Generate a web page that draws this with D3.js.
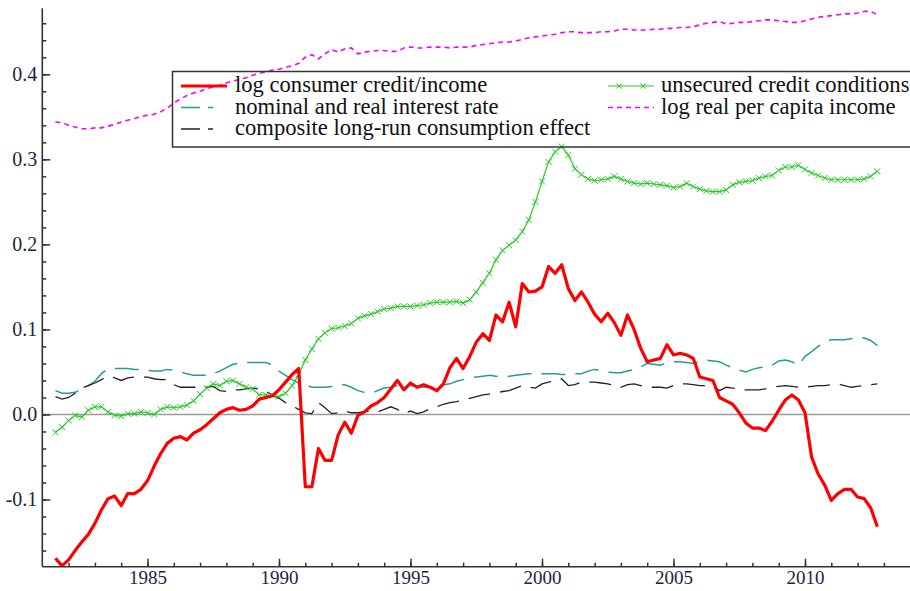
<!DOCTYPE html>
<html>
<head>
<meta charset="utf-8">
<script src="https://cdnjs.cloudflare.com/ajax/libs/d3/7.8.5/d3.min.js"></script>
<style>
  body { margin: 0; background: #fff; }
  svg { display: block; }
</style>
</head>
<body>
<svg id="chart"></svg>
<script>
// quarterly data, first quarter is 1981 Q3
var firstQuarter = 1981.5;

var creditIncome = [
  -0.169, -0.178,
  -0.171, -0.160, -0.150, -0.141,
  -0.128, -0.112, -0.099, -0.096,
  -0.107, -0.093, -0.093, -0.088,
  -0.078, -0.061, -0.046, -0.034,
  -0.028, -0.026, -0.030, -0.022,
  -0.018, -0.012, -0.005, 0.002,
  0.006, 0.008, 0.005, 0.006,
  0.010, 0.018, 0.020, 0.022,
  0.029, 0.038, 0.047, 0.054,
  -0.085, -0.085, -0.040, -0.054,
  -0.054, -0.024, -0.009, -0.022,
  -0.001, 0.003, 0.010, 0.014,
  0.020, 0.030, 0.040, 0.029,
  0.037, 0.032, 0.035, 0.032,
  0.028, 0.036, 0.055, 0.066,
  0.054, 0.068, 0.085, 0.095,
  0.087, 0.117, 0.109, 0.132,
  0.103, 0.154, 0.144, 0.145,
  0.150, 0.174, 0.166, 0.176,
  0.148, 0.134, 0.144, 0.132,
  0.118, 0.109, 0.119, 0.108,
  0.093, 0.117, 0.100, 0.078,
  0.062, 0.064, 0.066, 0.082,
  0.070, 0.072, 0.070, 0.066,
  0.044, 0.042, 0.040, 0.020,
  0.016, 0.012, 0.002, -0.010,
  -0.016, -0.016, -0.019, -0.008,
  0.005, 0.017, 0.023, 0.017,
  0.002, -0.050, -0.070, -0.083,
  -0.101, -0.093, -0.088, -0.088,
  -0.097, -0.099, -0.110, -0.132
];

var interestRate = [
  0.028, 0.025,
  0.025, 0.026, 0.030, 0.034,
  0.039, 0.048, 0.054, 0.054,
  0.054, 0.054, 0.053, 0.053,
  0.052, 0.051, 0.051, 0.053,
  0.052, 0.050, 0.048, 0.046,
  0.046, 0.046, 0.048, 0.051,
  0.055, 0.059, 0.060, 0.061,
  0.061, 0.061, 0.061, 0.058,
  0.051, 0.046, 0.041, 0.037,
  0.035, 0.032, 0.032, 0.032,
  0.033, 0.035, 0.035, 0.032,
  0.028, 0.026, 0.025, 0.028,
  0.031, 0.032, 0.034, 0.034,
  0.034, 0.033, 0.032, 0.032,
  0.034, 0.035, 0.036, 0.039,
  0.041, 0.043, 0.044, 0.045,
  0.046, 0.045, 0.044, 0.045,
  0.046, 0.047, 0.048, 0.048,
  0.048, 0.048, 0.048, 0.047,
  0.047, 0.048, 0.048, 0.051,
  0.053, 0.052, 0.050, 0.049,
  0.049, 0.051, 0.053, 0.056,
  0.060, 0.059, 0.058, 0.061,
  0.062, 0.062, 0.061, 0.060,
  0.062, 0.064, 0.063, 0.062,
  0.058, 0.055, 0.052, 0.050,
  0.053, 0.055, 0.056, 0.058,
  0.063, 0.064, 0.062, 0.058,
  0.068, 0.074, 0.080, 0.085,
  0.088, 0.088, 0.088, 0.089,
  0.091, 0.090, 0.087, 0.081
];

var compositeEffect = [
  0.021, 0.018,
  0.020, 0.025, 0.031, 0.034,
  0.037, 0.041, 0.045, 0.043,
  0.040, 0.043, 0.044, 0.044,
  0.044, 0.042, 0.041, 0.041,
  0.035, 0.032, 0.032, 0.032,
  0.032, 0.032, 0.033, 0.028,
  0.027, 0.029, 0.029, 0.030,
  0.031, 0.030, 0.027, 0.023,
  0.019, 0.014, 0.010, 0.006,
  0.002, 0.001, 0.014, 0.008,
  0.001, 0.002, 0.004, 0.002,
  0.002, 0.004, 0.003, 0.003,
  0.006, 0.009, 0.006, 0.001,
  0.004, 0.001, 0.003, 0.007,
  0.009, 0.012, 0.014, 0.015,
  0.017, 0.019, 0.021, 0.023,
  0.024, 0.025, 0.027, 0.028,
  0.031, 0.034, 0.032, 0.031,
  0.036, 0.038, 0.040, 0.042,
  0.034, 0.035, 0.038, 0.038,
  0.038, 0.037, 0.036, 0.034,
  0.032, 0.035, 0.036, 0.034,
  0.032, 0.032, 0.032, 0.031,
  0.034, 0.036, 0.036, 0.035,
  0.034, 0.034, 0.033, 0.028,
  0.032, 0.031, 0.030, 0.029,
  0.029, 0.029, 0.030, 0.032,
  0.033, 0.034, 0.033, 0.032,
  0.032, 0.033, 0.034, 0.034,
  0.035, 0.036, 0.034, 0.032,
  0.033, 0.034, 0.035, 0.036
];

var unsecuredCredit = [
  -0.021, -0.015,
  -0.007, -0.001, -0.003, 0.005,
  0.009, 0.009, 0.003, -0.001,
  -0.002, 0.001, 0.001, 0.003,
  0.002, 0.000, 0.006, 0.009,
  0.008, 0.009, 0.011, 0.016,
  0.024, 0.031, 0.036, 0.034,
  0.039, 0.040, 0.036, 0.032,
  0.030, 0.023, 0.023, 0.022,
  0.021, 0.025, 0.034, 0.047,
  0.064, 0.077, 0.089, 0.096,
  0.101, 0.102, 0.104, 0.107,
  0.113, 0.116, 0.118, 0.121,
  0.124, 0.125, 0.127, 0.127,
  0.127, 0.128, 0.129, 0.131,
  0.132, 0.132, 0.132, 0.133,
  0.131, 0.135, 0.144, 0.155,
  0.166, 0.182, 0.193, 0.199,
  0.205, 0.215, 0.229, 0.250,
  0.274, 0.297, 0.309, 0.315,
  0.305, 0.289, 0.282, 0.277,
  0.275, 0.276, 0.277, 0.280,
  0.277, 0.274, 0.272, 0.271,
  0.272, 0.271, 0.270, 0.269,
  0.267, 0.268, 0.272, 0.268,
  0.265, 0.263, 0.262, 0.262,
  0.264, 0.270, 0.273, 0.274,
  0.275, 0.278, 0.280, 0.281,
  0.287, 0.291, 0.291, 0.293,
  0.288, 0.284, 0.281, 0.278,
  0.276, 0.276, 0.276, 0.276,
  0.276, 0.277, 0.280, 0.286
];

var perCapitaIncome = [
  0.344, 0.343,
  0.340, 0.338, 0.336, 0.336,
  0.337, 0.337, 0.339, 0.341,
  0.344, 0.346, 0.348, 0.350,
  0.352, 0.353, 0.356, 0.360,
  0.366, 0.371, 0.375, 0.378,
  0.380, 0.383, 0.385, 0.387,
  0.390, 0.392, 0.394, 0.396,
  0.399, 0.401, 0.403, 0.405,
  0.406, 0.408, 0.410, 0.413,
  0.420, 0.423, 0.418, 0.424,
  0.429, 0.426, 0.430, 0.431,
  0.424, 0.426, 0.427, 0.428,
  0.428, 0.427, 0.427, 0.431,
  0.432, 0.431, 0.431, 0.432,
  0.432, 0.432, 0.431, 0.432,
  0.432, 0.432, 0.434, 0.435,
  0.436, 0.437, 0.438, 0.438,
  0.439, 0.441, 0.443, 0.444,
  0.445, 0.446, 0.447, 0.449,
  0.450, 0.450, 0.449, 0.449,
  0.449, 0.450, 0.450, 0.451,
  0.453, 0.453, 0.452, 0.452,
  0.452, 0.453, 0.453, 0.454,
  0.454, 0.455, 0.455, 0.456,
  0.458, 0.460, 0.461, 0.462,
  0.459, 0.460, 0.461, 0.461,
  0.462, 0.463, 0.464, 0.464,
  0.463, 0.462, 0.461, 0.461,
  0.463, 0.465, 0.467, 0.468,
  0.469, 0.470, 0.471, 0.471,
  0.472, 0.474, 0.474, 0.470
];

var xTickValues = [1985, 1990, 1995, 2000, 2005, 2010];
var yTickValues = [-0.1, 0.0, 0.1, 0.2, 0.3, 0.4];

var legendLabels = [
  "log consumer credit/income",
  "nominal and real interest rate",
  "composite long-run consumption effect",
  "unsecured credit conditions",
  "log real per capita income"
];

// parameters
var width = 910;
var height = 591;
var plotLeft = 42.3;
var plotRight = 910.2;
var plotTop = 8.3;
var plotBottom = 566.7;
var serif = "'Liberation Serif', 'Times New Roman', serif";

var svg = d3.select("#chart");
svg.attr("width", width);
svg.attr("height", height);

var x = d3.scaleLinear().domain([1981, 2014]).range([plotLeft, plotRight]);
var y = d3.scaleLinear().domain([-0.179, 0.4776]).range([plotBottom, plotTop]);

function toPoints(values) {
  var pts = [];
  for (var i = 0; i < values.length; i += 1) {
    pts.push([firstQuarter + i * 0.25, values[i]]);
  }
  return pts;
}

var line = d3.line()
  .x(function (d) { return x(d[0]); })
  .y(function (d) { return y(d[1]); });

svg.append("clipPath").attr("id", "plot-clip")
  .append("rect")
  .attr("x", plotLeft).attr("y", plotTop - 4)
  .attr("width", plotRight - plotLeft).attr("height", plotBottom - plotTop + 4);

// zero line
svg.append("line")
  .attr("x1", plotLeft).attr("x2", plotRight)
  .attr("y1", y(0)).attr("y2", y(0))
  .attr("stroke", "#9a9a9a")
  .attr("stroke-width", 1.6);

var plot = svg.append("g").attr("clip-path", "url(#plot-clip)");

// log real per capita income
plot.append("path")
  .attr("d", line(toPoints(perCapitaIncome)))
  .attr("fill", "none")
  .attr("stroke", "#ff00ff")
  .attr("stroke-width", 1.6)
  .attr("stroke-dasharray", "5,4");

// interest rate
plot.append("path")
  .attr("d", line(toPoints(interestRate)))
  .attr("fill", "none")
  .attr("stroke", "#2a9a9a")
  .attr("stroke-width", 1.5)
  .attr("stroke-dasharray", "24,10");

// composite effect
plot.append("path")
  .attr("d", line(toPoints(compositeEffect)))
  .attr("fill", "none")
  .attr("stroke", "#222")
  .attr("stroke-width", 1.3)
  .attr("stroke-dasharray", "22,10");

// unsecured credit conditions with x markers
var greenPts = toPoints(unsecuredCredit);
plot.append("path")
  .attr("d", line(greenPts))
  .attr("fill", "none")
  .attr("stroke", "#22cc22")
  .attr("stroke-width", 1.2);

var cross = "M-3,-3L3,3M-3,3L3,-3";
plot.selectAll(".mark")
  .data(greenPts)
  .enter()
  .append("path")
  .attr("class", "mark")
  .attr("transform", function (d) { return "translate(" + x(d[0]) + "," + y(d[1]) + ")"; })
  .attr("d", cross)
  .attr("fill", "none")
  .attr("stroke", "#22cc22")
  .attr("stroke-width", 1);

// consumer credit / income
plot.append("path")
  .attr("d", line(toPoints(creditIncome)))
  .attr("fill", "none")
  .attr("stroke", "#ff0000")
  .attr("stroke-width", 3.2)
  .attr("stroke-linejoin", "round");

// axes
var yAxis = d3.axisLeft(y)
  .tickValues(yTickValues)
  .tickSize(-8)
  .tickPadding(5)
  .tickFormat(function (d) { return d.toFixed(1); });

var yMinor = d3.axisLeft(y)
  .tickValues(d3.range(-16, 48, 2).map(function (v) { return v / 100; }))
  .tickSize(-4)
  .tickFormat("");

var xAxis = d3.axisBottom(x)
  .tickValues(xTickValues)
  .tickSize(-8)
  .tickPadding(4)
  .tickFormat(function (d) { return String(d); });

var xMinor = d3.axisBottom(x)
  .tickValues(d3.range(1982, 2014))
  .tickSize(-4)
  .tickFormat("");

function styleAxis(size) {
  return function (g) {
    g.select(".domain").remove();
    g.selectAll("line").attr("stroke", "#333").attr("stroke-width", 1.5);
    g.selectAll("text")
      .attr("fill", "#1c2540")
      .style("font-family", serif)
      .style("font-size", size + "px");
  };
}

svg.append("g").attr("transform", "translate(" + plotLeft + ",0)").call(yMinor).call(styleAxis(20));
svg.append("g").attr("transform", "translate(" + plotLeft + ",0)").call(yAxis).call(styleAxis(20));
svg.append("g").attr("transform", "translate(0," + plotBottom + ")").call(xMinor).call(styleAxis(19));
svg.append("g").attr("transform", "translate(0," + plotBottom + ")").call(xAxis).call(styleAxis(19));

// axis lines
svg.append("line")
  .attr("x1", plotLeft).attr("x2", plotLeft)
  .attr("y1", plotTop).attr("y2", plotBottom)
  .attr("stroke", "#333").attr("stroke-width", 1.6);
svg.append("line")
  .attr("x1", plotLeft).attr("x2", width)
  .attr("y1", plotBottom).attr("y2", plotBottom)
  .attr("stroke", "#333").attr("stroke-width", 1.6);

// legend
var legend = svg.append("g");
legend.append("rect")
  .attr("x", 172.5).attr("y", 71.5)
  .attr("width", 760).attr("height", 75.5)
  .attr("fill", "none")
  .attr("stroke", "#333")
  .attr("stroke-width", 1.5);

var rowY = [92, 113.5, 135];
var colSample = [181, 608];
var colText = [235, 661];

function legendText(col, row, label) {
  legend.append("text")
    .attr("x", colText[col])
    .attr("y", rowY[row])
    .attr("fill", "#111")
    .style("font-family", serif)
    .style("font-size", "22.6px")
    .text(label);
}

function legendLine(col, row, color, w, dash) {
  var l = legend.append("line")
    .attr("x1", colSample[col]).attr("x2", colSample[col] + 46)
    .attr("y1", rowY[row] - 6).attr("y2", rowY[row] - 6)
    .attr("stroke", color)
    .attr("stroke-width", w);
  if (dash) l.attr("stroke-dasharray", dash);
  return l;
}

legendLine(0, 0, "#ff0000", 3.2, null);
legendText(0, 0, legendLabels[0]);
legendLine(0, 1, "#2a9a9a", 1.5, "19,8,5,100");
legendText(0, 1, legendLabels[1]);
legendLine(0, 2, "#222", 1.3, "19,8,5,100");
legendText(0, 2, legendLabels[2]);

legendLine(1, 0, "#22cc22", 1.2, null);
[619, 643].forEach(function (mx) {
  legend.append("path")
    .attr("transform", "translate(" + mx + "," + (rowY[0] - 6) + ")")
    .attr("d", "M-2.5,-2.5L2.5,2.5M-2.5,2.5L2.5,-2.5")
    .attr("fill", "none")
    .attr("stroke", "#22cc22")
    .attr("stroke-width", 1);
});
legendText(1, 0, legendLabels[3]);
legendLine(1, 1, "#ff00ff", 1.6, "5,4");
legendText(1, 1, legendLabels[4]);
</script>
</body>
</html>
